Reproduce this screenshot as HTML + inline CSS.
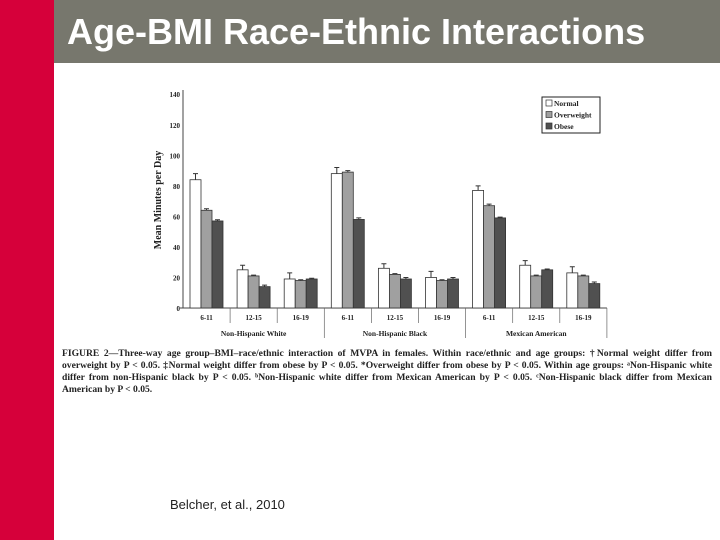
<!DOCTYPE html>
<html><head><meta charset="utf-8"><style>
body{margin:0;width:720px;height:540px;position:relative;background:#fff;overflow:hidden;font-family:"Liberation Sans",sans-serif}
#red{position:absolute;left:0;top:0;width:54px;height:540px;background:#d6003a}
#bar{position:absolute;left:54px;top:0;width:666px;height:63px;background:#77776d}
#title{position:absolute;left:67px;top:11px;color:#fff;font-weight:bold;font-size:36px;white-space:nowrap}
#cap{position:absolute;left:62px;top:348px;width:650px;font-family:"Liberation Serif",serif;font-size:9.6px;line-height:12px;color:#222;font-weight:bold;text-align:justify}
#cite{position:absolute;left:170px;top:497px;font-size:13px;color:#222}
</style></head><body>
<div id="red"></div>
<div id="bar"></div>
<div id="title">Age-BMI Race-Ethnic Interactions</div>
<svg id="chart" width="720" height="540" style="position:absolute;left:0;top:0" font-family="Liberation Serif, serif"></svg>
<div id="cap">FIGURE 2—Three-way age group–BMI–race/ethnic interaction of MVPA in females. Within race/ethnic and age groups: †Normal weight differ from overweight by P &lt; 0.05. ‡Normal weight differ from obese by P &lt; 0.05. *Overweight differ from obese by P &lt; 0.05. Within age groups: ᵃNon-Hispanic white differ from non-Hispanic black by P &lt; 0.05. ᵇNon-Hispanic white differ from Mexican American by P &lt; 0.05. ᶜNon-Hispanic black differ from Mexican American by P &lt; 0.05.</div>
<div id="cite">Belcher, et al., 2010</div>
<script>
const ages=["6-11","12-15","16-19"];
const races=["Non-Hispanic White","Non-Hispanic Black","Mexican American"];
const series=["Normal","Overweight","Obese"];
const normal=[84,25,19,88,26,20,77,28,23];
const overweight=[64,21,18,89,22,18,67,21,21];
const obese=[57,14,19,58,19,19,59,25,16];
const errs=[[4,3,4,4,3,4,3,3,4],[1,0.5,0.5,1,0.5,0.5,1,0.5,0.5],[0.8,1,0.5,1,1,1,0.5,0.5,1]];
const yTicks=[0,20,40,60,80,100,120,140];
const svg=document.getElementById('chart');const NS='http://www.w3.org/2000/svg';
const x0=183,gw=47.1,y0=308,ppu=1.527;
const y=v=>y0-v*ppu;
function mk(t,a){const e=document.createElementNS(NS,t);for(const k in a)e.setAttribute(k,a[k]);svg.appendChild(e);return e;}
let e;
e=mk('line',{x1:x0,y1:90,x2:x0,y2:y0,stroke:'#444'});
e=mk('line',{x1:x0-3,y1:y0,x2:x0+gw*9,y2:y0,stroke:'#444'});
yTicks.forEach(t=>{e=mk('text',{x:x0-3,y:y(t)+3,'text-anchor':'end','font-size':7,'font-weight':'bold',fill:'#222'});e.textContent=t;
});
e=mk('text',{x:161,y:200,'text-anchor':'middle','font-size':10,'font-weight':'bold',transform:'rotate(-90 161 200)',fill:'#222'});e.textContent='Mean Minutes per Day';

const fills=['#ffffff','#a0a0a0','#505050'];const data=[normal,overweight,obese];
for(let g=0;g<9;g++){
 const gx=x0+g*gw;
 e=mk('line',{x1:gx+gw,y1:y0,x2:gx+gw,y2:(g%3==2)?y0+30:y0+15,stroke:'#666','stroke-width':0.7});
 e=mk('text',{x:gx+gw/2,y:y0+12,'text-anchor':'middle','font-size':7,'font-weight':'bold',fill:'#222'});e.textContent=ages[g%3];
 
 for(let s=0;s<3;s++){
  const v=data[s][g],bx=gx+7+s*11;
  e=mk('rect',{x:bx,y:y(v),width:11,height:v*ppu,fill:fills[s],stroke:'#333','stroke-width':0.8});
  
  e=mk('path',{d:`M${bx+5.5} ${y(v)}V${y(v+errs[s][g])}M${bx+3} ${y(v+errs[s][g])}H${bx+8}`,stroke:'#333','stroke-width':1,fill:'none'});
  
 }
}
races.forEach((r,i)=>{e=mk('text',{x:x0+(i*3+1.5)*gw,y:y0+28,'text-anchor':'middle','font-size':7.5,'font-weight':'bold',fill:'#222'});e.textContent=r;
});
e=mk('rect',{x:542,y:97,width:58,height:36,fill:'#fff',stroke:'#222','stroke-width':1});
series.forEach((s,i)=>{e=mk('rect',{x:546,y:100+i*11.5,width:6,height:6,fill:fills[i],stroke:'#333','stroke-width':0.7});
e=mk('text',{x:554,y:106+i*11.5,'font-size':7.5,'font-weight':'bold',fill:'#222'});e.textContent=s;});
</script>
</body></html>
